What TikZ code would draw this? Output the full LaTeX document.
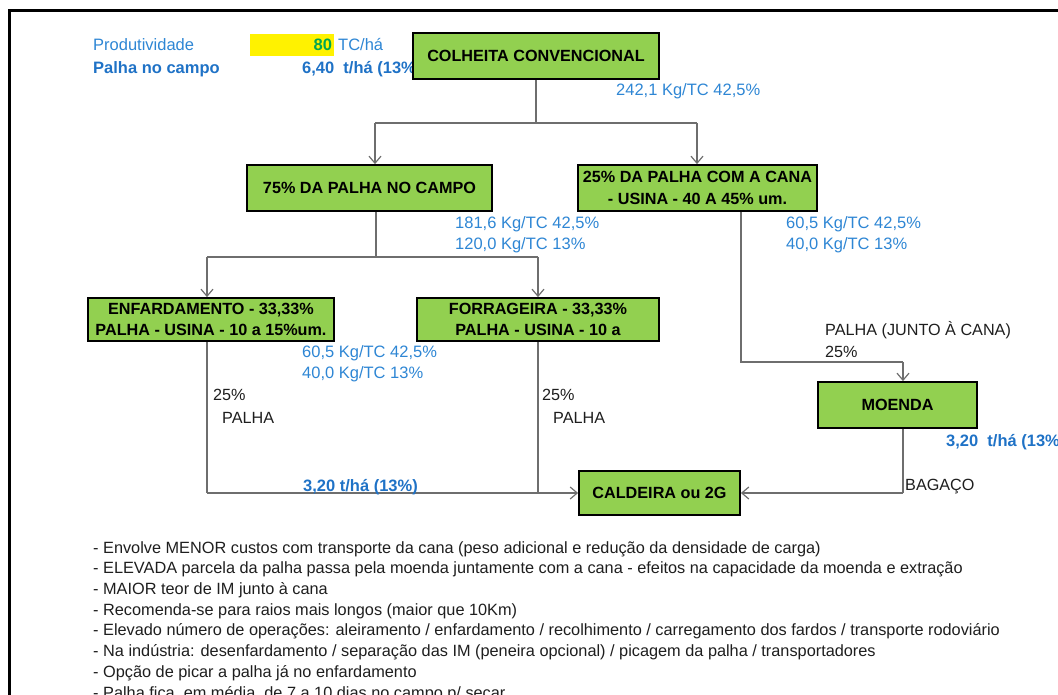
\documentclass[tikz,border=0pt]{standalone}
\usepackage{fontspec}
\setmainfont{Liberation Sans}
\usetikzlibrary{arrows.meta}
\definecolor{boxgreen}{HTML}{92D050}
\definecolor{flowblue}{HTML}{2E86D4}
\definecolor{flowbluedk}{HTML}{1F72C6}
\definecolor{linegray}{HTML}{6E6E6E}
\definecolor{valgreen}{HTML}{00A651}
\definecolor{inktext}{HTML}{1E1E1E}
\begin{document}
\begin{tikzpicture}[x=1pt,y=-1pt,
  stage/.style={draw=black, line width=1.8pt, fill=boxgreen, inner sep=0pt,
    align=center, text=black, font=\fontsize{16.2}{21.5}\selectfont\bfseries},
  val/.style={anchor=base west, inner sep=0pt, text=flowblue,
    font=\fontsize{16.5}{19}\selectfont},
  valbold/.style={val, text=flowbluedk, font=\fontsize{16.5}{19}\selectfont\bfseries},
  note/.style={anchor=base west, inner sep=0pt, text=inktext,
    font=\fontsize{16.2}{19}\selectfont},
  flow/.style={draw=linegray, line width=1.3pt},
  arr/.style={flow, -{Straight Barb[length=7pt,width=12pt,line width=1.2pt]}}]

\useasboundingbox (0,0) rectangle (1058,695);
\clip (0,0) rectangle (1058,695);

% outer frame
\draw[line width=3pt, black] (9.5,720) |- (1080,10.5);

% header figures
\node[fill=yellow, minimum width=84pt, minimum height=22pt, text width=80pt,
  align=right, inner sep=2pt, text=valgreen, font=\fontsize{16.5}{19}\selectfont\bfseries]
  (prodval) at (292,45) {80};
\node[val] (prodlbl) at (93,51) {Produtividade};
\node[val] (produnit) at (338,51) {TC/há};
\node[valbold] (palhalbl) at (93,74) {Palha no campo};
\node[valbold] (palhaval) at (302,74) {6,40\ \ t/há (13\%)};

% loose values (drawn before the boxes, which cover their ends)
\node[valbold] (moeval) at (946,446) {3,20\ \ t/há (13\%)};

% process boxes
\node[stage, minimum width=246pt, minimum height=46pt] (col) at (536,56) {COLHEITA CONVENCIONAL};
\node[stage, minimum width=245pt, minimum height=46pt] (p75) at (369.5,188) {75\% DA PALHA NO CAMPO};
\node[stage, minimum width=239pt, minimum height=46pt] (p25) at (697.5,188) {25\% DA PALHA COM A CANA\\- USINA - 40 A 45\% um.};
\node[stage, minimum width=246pt, minimum height=43pt] (enf) at (211,319.5) {ENFARDAMENTO - 33,33\%\\PALHA - USINA - 10 a 15\%um.};
\node[stage, minimum width=242pt, minimum height=43pt] (forr) at (538,319.5) {FORRAGEIRA - 33,33\%\\PALHA - USINA - 10 a};
\node[stage, minimum width=159pt, minimum height=46pt] (moe) at (897.5,405) {MOENDA};
\node[stage, minimum width=161pt, minimum height=44pt] (cal) at (659.5,493) {CALDEIRA ou 2G};

% junction points
\coordinate (jc) at (536,123);
\coordinate (jcL) at (375,123);
\coordinate (jcR) at (697,123);
\coordinate (jp) at (376,257);
\coordinate (jpL) at (207,257);
\coordinate (jpR) at (538,257);
\coordinate (jm) at (741,362);
\coordinate (jmR) at (903,362);
\coordinate (jb) at (207,493);
\coordinate (jq) at (903,493);

% connectors
\draw[flow] (col.south) -- (jc);
\draw[flow] (jcL) -- (jcR);
\draw[arr] (jcL) -- (jcL |- p75.north);
\draw[arr] (jcR) -- (jcR |- p25.north);

\draw[flow] (jp |- p75.south) -- (jp);
\draw[flow] (jpL) -- (jpR);
\draw[arr] (jpL) -- (jpL |- enf.north);
\draw[arr] (jpR) -- (forr.north);

\draw[flow] (jm |- p25.south) -- (jm) -- (jmR);
\draw[arr] (jmR) -- (jmR |- moe.north);

\draw[flow] (jb |- enf.south) -- (jb);
\draw[arr] (jb) -- (cal.west);
\draw[flow] (forr.south) -- (forr.south |- jb);

\draw[flow] (jq |- moe.south) -- (jq);
\draw[arr] (jq) -- (cal.east);

% flow values
\node[val] (v1) at (616,96) {242,1\ Kg/TC 42,5\%};
\node[val] (v2a) at (455,229) {181,6\ Kg/TC 42,5\%};
\node[val] (v2b) at (455,250) {120,0\ Kg/TC 13\%};
\node[val] (v3a) at (786,229) {60,5\ Kg/TC 42,5\%};
\node[val] (v3b) at (786,250) {40,0\ Kg/TC 13\%};
\node[val] (v4a) at (302,357) {60,5\ Kg/TC 42,5\%};
\node[val] (v4b) at (302,378) {40,0\ Kg/TC 13\%};
\node[valbold] (v5) at (303,491) {3,20 t/há (13\%)};

% stream labels
\node[note] (s1a) at (213,400) {25\%};
\node[note] (s1b) at (222,423) {PALHA};
\node[note] (s2a) at (542,400) {25\%};
\node[note] (s2b) at (553,423) {PALHA};
\node[note] (s3a) at (825,335) {PALHA (JUNTO À CANA)};
\node[note] (s3b) at (825,357) {25\%};
\node[note] (s4) at (905,490) {BAGAÇO};

% remarks
\node[anchor=north west, inner sep=0pt, align=left, text=inktext,
  font=\fontsize{16.3}{20.7}\selectfont] (remarks) at (93,538.5) {\strut
- Envolve MENOR custos com transporte da cana (peso adicional e redução da densidade de carga)\\
- ELEVADA parcela da palha passa pela moenda juntamente com a cana - efeitos na capacidade da moenda e extração\\
- MAIOR teor de IM junto à cana\\
- Recomenda-se para raios mais longos (maior que 10Km)\\
- Elevado número de operações: aleiramento / enfardamento / recolhimento / carregamento dos fardos / transporte rodoviário\\
- Na indústria: desenfardamento / separação das IM (peneira opcional) / picagem da palha / transportadores\\
- Opção de picar a palha já no enfardamento\\
- Palha fica, em média, de 7 a 10 dias no campo p/ secar};
\end{tikzpicture}
\end{document}
